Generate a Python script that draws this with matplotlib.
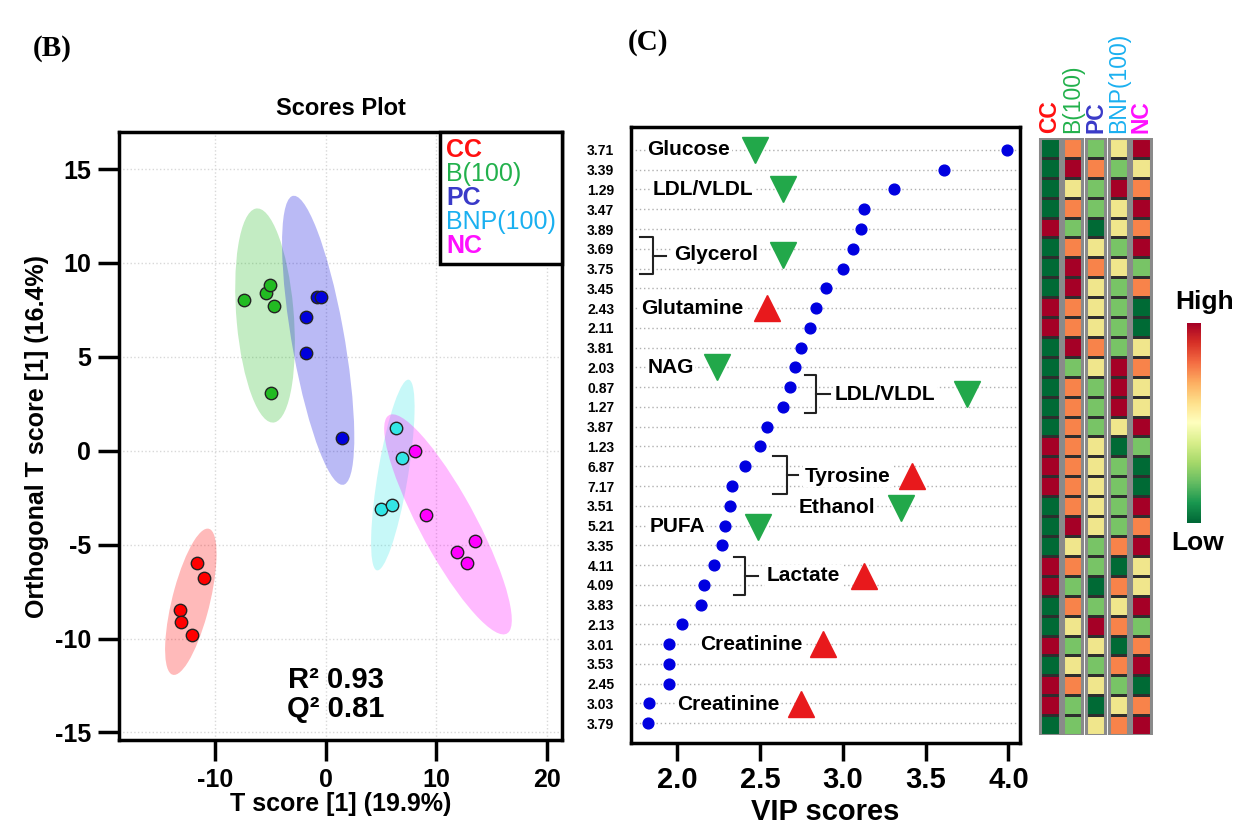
import matplotlib
matplotlib.use("Agg")
import matplotlib.pyplot as plt
import numpy as np
from matplotlib.patches import Ellipse, Rectangle
from matplotlib.colors import ListedColormap

plt.rcParams['font.family'] = ['Liberation Sans', 'DejaVu Sans']
plt.rcParams['font.weight'] = 'bold'
plt.rcParams['axes.unicode_minus'] = False

# ---------------- data: OPLS-DA scores ----------------
groups = ['CC', 'B(100)', 'PC', 'BNP(100)', 'NC']
cc_x = [-11.6, -11.0, -13.2, -13.1, -12.1]
cc_y = [-6.0, -6.8, -8.5, -9.1, -9.8]
b_x = [-7.4, -5.4, -5.0, -4.7, -4.9]
b_y = [8.0, 8.4, 8.8, 7.7, 3.1]
pc_x = [-0.8, -0.4, -1.8, -1.8, 1.45]
pc_y = [8.2, 8.2, 7.1, 5.2, 0.7]
bnp_x = [6.4, 6.9, 5.0, 6.05]
bnp_y = [1.2, -0.37, -3.1, -2.9]
nc_x = [8.1, 9.1, 13.5, 11.9, 12.8]
nc_y = [0.0, -3.4, -4.8, -5.4, -6.0]
r2, q2 = 0.93, 0.81

# ---------------- data: VIP scores ----------------
vip_ppm = ['3.71', '3.39', '1.29', '3.47', '3.89', '3.69', '3.75', '3.45', '2.43', '2.11',
           '3.81', '2.03', '0.87', '1.27', '3.87', '1.23', '6.87', '7.17', '3.51', '5.21',
           '3.35', '4.11', '4.09', '3.83', '2.13', '3.01', '3.53', '2.45', '3.03', '3.79']
vip_val = [3.99, 3.61, 3.31, 3.13, 3.11, 3.06, 3.00, 2.90, 2.84, 2.80,
           2.75, 2.71, 2.68, 2.64, 2.54, 2.50, 2.41, 2.33, 2.32, 2.29,
           2.27, 2.22, 2.16, 2.14, 2.03, 1.95, 1.95, 1.95, 1.83, 1.82]

# relative level in each group (0 low .. 4 high), columns = groups
heat = [[0, 3, 1, 2, 4], [0, 4, 3, 1, 2], [0, 2, 1, 4, 3], [0, 3, 1, 2, 4], [4, 1, 0, 2, 3],
        [0, 3, 2, 1, 4], [0, 4, 3, 2, 1], [0, 4, 2, 1, 3], [4, 3, 2, 1, 0], [4, 3, 2, 1, 0],
        [0, 4, 3, 1, 2], [0, 1, 2, 4, 3], [0, 3, 1, 4, 2], [0, 3, 1, 4, 2], [0, 3, 1, 2, 4],
        [4, 3, 2, 0, 1], [4, 3, 2, 1, 0], [4, 3, 2, 1, 0], [0, 3, 2, 1, 4], [0, 4, 2, 1, 3],
        [0, 2, 1, 3, 4], [4, 3, 1, 0, 2], [4, 1, 0, 3, 2], [0, 3, 1, 2, 4], [0, 2, 4, 3, 1],
        [4, 1, 2, 0, 3], [0, 2, 1, 3, 4], [4, 3, 2, 1, 0], [4, 1, 0, 2, 3], [0, 1, 2, 3, 4]]

# annotations: name, text x, row, marker x, up/down
notes = [('Glucose', 1.82, 0, 2.47, 'v'), ('LDL/VLDL', 1.85, 2, 2.64, 'v'),
         ('Glycerol', 1.98, 5.3, 2.64, 'v'), ('Glutamine', 1.78, 8, 2.54, '^'),
         ('NAG', 1.82, 11, 2.24, 'v'), ('LDL/VLDL', 2.95, 12.35, 3.75, 'v'),
         ('Tyrosine', 2.77, 16.5, 3.42, '^'), ('Ethanol', 2.73, 18.1, 3.35, 'v'),
         ('PUFA', 1.83, 19.05, 2.49, 'v'), ('Lactate', 2.54, 21.55, 3.13, '^'),
         ('Creatinine', 2.14, 25, 2.88, '^'), ('Creatinine', 2.0, 28.05, 2.75, '^')]
# brackets: top row, bottom row, x of left ends, x of spine, x of middle tick end
brackets = [(4.4, 6.3, 1.777, 1.85, 1.93), (11.4, 13.3, 2.77, 2.84, 2.92),
            (15.5, 17.4, 2.58, 2.66, 2.73), (20.6, 22.5, 2.34, 2.41, 2.49)]

grp_colors = ['#ff0000', '#22bb22', '#0000dd', '#33e6e6', '#ff00ff']
lab_colors = ['#ff1010', '#22b14c', '#3a3ac8', '#1ab0f0', '#ff10ff']
lab_weight = ['bold', 'normal', 'bold', 'normal', 'bold']

fig = plt.figure(figsize=(12.39, 8.3), dpi=100)
W, H = 1239.0, 830.0


def px_axes(l, t, r, b):
    return fig.add_axes([l / W, 1 - b / H, (r - l) / W, (b - t) / H])


# ================= (B) scores plot =================
ax = px_axes(119, 132, 562, 740)
xs = [cc_x, b_x, pc_x, bnp_x, nc_x]
ys = [cc_y, b_y, pc_y, bnp_y, nc_y]
for x, y, c in zip(xs, ys, grp_colors):
    x = np.array(x); y = np.array(y)
    cov = np.cov(x, y)
    vals, vecs = np.linalg.eigh(cov)
    k = np.sqrt(5.991)
    ang = np.degrees(np.arctan2(vecs[1, 1], vecs[0, 1]))
    ax.add_patch(Ellipse((x.mean(), y.mean()), 2 * k * np.sqrt(vals[1]), 2 * k * np.sqrt(vals[0]),
                         angle=ang, facecolor=c, alpha=0.27, edgecolor='none', zorder=1))
for x, y, c in zip(xs, ys, grp_colors):
    ax.scatter(x, y, s=80, color=c, edgecolor='#222222', linewidth=1, zorder=3)

ax.set_xlim(-18.7, 21.4)
ax.set_ylim(-15.4, 16.97)
ax.set_xticks([-10, 0, 10, 20])
ax.set_yticks([-15, -10, -5, 0, 5, 10, 15])
ax.grid(True, linestyle=':', color='#d8d8d8', linewidth=1)
ax.set_axisbelow(True)
for s in ax.spines.values():
    s.set_linewidth(2.5)
ax.tick_params(width=2.5, length=15, labelsize=18, pad=5)
ax.set_xlabel('T score [1] (19.9%)', fontsize=18, fontweight='bold', labelpad=0)
ax.set_ylabel('Orthogonal T score [1] (16.4%)', fontsize=18, fontweight='bold', labelpad=4)
ax.set_title('Scores Plot', fontsize=17, fontweight='bold', pad=12)
ax.text(0.9, -13.0, f'R² {r2:.2f}\nQ² {q2:.2f}', fontsize=21, fontweight='bold',
        ha='center', va='center', linespacing=1.05)

handles = [plt.Line2D([], [], linestyle='none') for _ in groups]
leg = ax.legend(handles, groups, loc='upper right', borderaxespad=0, handlelength=0,
                handletextpad=0, labelspacing=0.0, fontsize=18, fancybox=False,
                framealpha=1, borderpad=0.25)
leg.get_frame().set_edgecolor('black')
leg.get_frame().set_linewidth(2.5)
for t, c, w in zip(leg.get_texts(), lab_colors, lab_weight):
    t.set_color(c)
    t.set_fontweight(w)

# ================= (C) VIP scores =================
av = px_axes(631, 127, 1020, 743)
rows = np.arange(len(vip_val))
av.hlines(rows, 1.72, 4.07, colors='#b0b0b0', linestyles=(0, (1, 2)), linewidth=1, zorder=0)
av.scatter(vip_val, rows, s=60, color='#0000e0', zorder=3)
for name, tx, r, mx, m in notes:
    av.text(tx, r, name, fontsize=15, fontweight='bold', ha='left', va='center',
            bbox=dict(facecolor='white', edgecolor='none', pad=1), zorder=2)
    av.plot(mx, r, marker=m, markersize=19, color='#22a84a' if m == 'v' else '#e8191c',
            linestyle='none', zorder=2)
for top, bot, xl, xv, xr in brackets:
    mid = (top + bot) / 2
    av.plot([xl, xv, xv, xl], [top, top, bot, bot], color='#222222', linewidth=1.5, zorder=2)
    av.plot([xv, xr], [mid, mid], color='#222222', linewidth=1.5, zorder=2)
av.set_xlim(1.72, 4.07)
av.set_ylim(len(vip_val) - 0.0, -1.16)
av.set_yticks(rows)
av.set_yticklabels(vip_ppm, fontsize=10, fontweight='bold')
av.tick_params(axis='y', length=0, pad=12)
av.set_xticks([2.0, 2.5, 3.0, 3.5, 4.0])
av.set_xticklabels(['2.0', '2.5', '3.0', '3.5', '4.0'], fontsize=21, fontweight='bold')
av.tick_params(axis='x', width=2.5, length=13)
for s in av.spines.values():
    s.set_linewidth(2.5)
av.set_xlabel('VIP scores', fontsize=21, fontweight='bold', labelpad=3)

# ================= heatmap =================
ah = px_axes(1038, 138, 1153, 735)
cell_colors = ['#006a35', '#78c466', '#f0e68c', '#f8834a', '#a50026']
cmap = ListedColormap(cell_colors)
heat = np.array(heat)
pitch = 1.17
for j in range(len(groups)):
    x0 = j * pitch
    ah.pcolormesh([x0, x0 + 1], np.arange(len(heat) + 1) - 0.5, heat[:, j:j + 1],
                  cmap=cmap, vmin=-0.5, vmax=4.5, edgecolors='#2e2e2e', linewidth=0.9)
    ah.add_patch(Rectangle((x0, -0.5), 1, len(heat), fill=False, edgecolor='#8a8a8a',
                           linewidth=2.2, zorder=3))
    ah.text(x0 + 0.5, -0.75, groups[j], rotation=90, ha='center', va='bottom',
            color=lab_colors[j], fontsize=16.5, fontweight=lab_weight[j])
ah.set_xlim(-0.1, 4 * pitch + 1.1)
ah.set_ylim(len(heat) - 0.5, -0.5)
ah.axis('off')

# colour key
ac = px_axes(1187, 323, 1201, 523)
ac.imshow(np.linspace(1, 0, 200)[:, None], aspect='auto', cmap='RdYlGn_r')
ac.axis('off')
fig.text(1205 / W, 1 - 302 / H, 'High', fontsize=19, fontweight='bold', ha='center', va='center')
fig.text(1198 / W, 1 - 543 / H, 'Low', fontsize=19, fontweight='bold', ha='center', va='center')

# panel labels
fig.text(52 / W, 1 - 48 / H, '(B)', family='Liberation Serif', fontsize=21, fontweight='bold',
         ha='center', va='center')
fig.text(648 / W, 1 - 42 / H, '(C)', family='Liberation Serif', fontsize=21, fontweight='bold',
         ha='center', va='center')

fig.savefig('out.png', dpi=100)
